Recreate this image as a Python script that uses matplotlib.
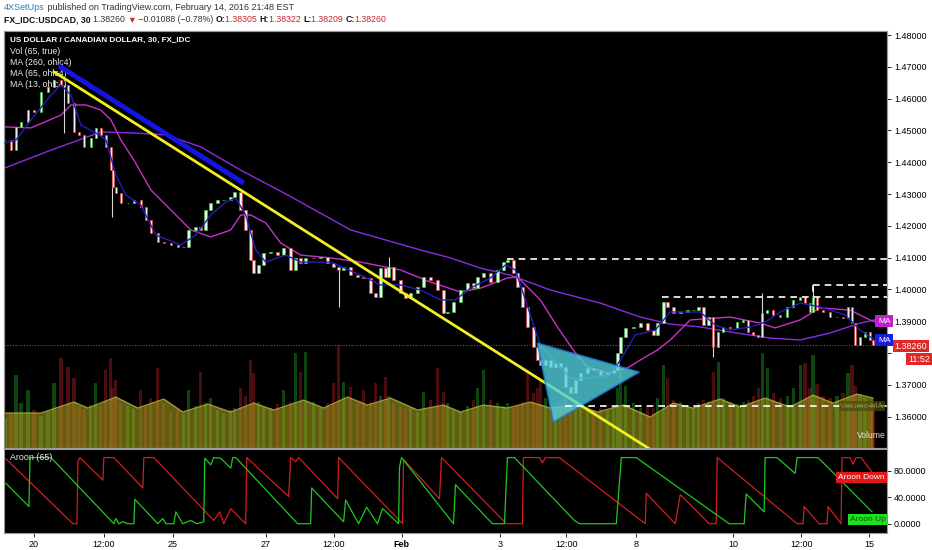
import numpy as np
import matplotlib.pyplot as plt
from matplotlib.patches import Polygon

plt.rcParams['font.family'] = ['Liberation Sans', 'DejaVu Sans']

# ---- price samples (bar index, close) ----
bars = [0, 6, 11, 16, 23, 29, 36, 43, 49, 56, 63, 69, 74, 79, 86, 91, 96, 101, 106, 108,
        111, 116, 123, 129, 136, 141, 146, 153, 159, 166, 173, 179, 184, 191, 196, 201, 206, 213, 219, 226,
        230, 236, 241, 246, 249, 254, 259, 266, 273, 279, 286, 291, 296, 301, 309, 316, 323, 329, 334, 339,
        346, 353, 359, 366, 371, 376, 381, 384, 389, 396, 401, 406, 413, 419, 426, 433, 439, 443, 449, 456,
        463, 469, 473, 479, 486, 493, 499, 503, 509, 513, 518, 523, 529, 533, 536, 541, 546, 551, 556, 561,
        566, 571, 576, 583, 589, 596, 603, 609, 613, 616, 621, 629, 636, 643, 649, 653, 659, 663, 669, 676,
        683, 689, 694, 699, 704, 709, 714, 719, 726, 733, 739, 744, 749, 754, 758, 763, 769, 776, 783, 789,
        796, 801, 806, 809, 813, 819, 826, 833, 839, 844, 848, 851, 856, 861, 866, 869]
close = [1.4470, 1.4438, 1.4511, 1.4526, 1.4564, 1.4558, 1.4621, 1.4636, 1.4658, 1.4643, 1.4586, 1.4495, 1.4486, 1.4448, 1.4476, 1.4508, 1.4486, 1.4448, 1.4375, 1.4322,
         1.4303, 1.4272, 1.4272, 1.4281, 1.4259, 1.4218, 1.4177, 1.4149, 1.4146, 1.4140, 1.4133, 1.4133, 1.4187, 1.4196, 1.4187, 1.4250, 1.4272, 1.4281, 1.4281, 1.4291,
         1.4306, 1.4250, 1.4187, 1.4092, 1.4052, 1.4077, 1.4114, 1.4118, 1.4108, 1.4130, 1.4061, 1.4099, 1.4083, 1.4099, 1.4099, 1.4102, 1.4083, 1.4070, 1.4061, 1.4070,
         1.4045, 1.4039, 1.4036, 1.3989, 1.3976, 1.4067, 1.4039, 1.4070, 1.4030, 1.3989, 1.3973, 1.3989, 1.4008, 1.4039, 1.4030, 1.3998, 1.3926, 1.3929, 1.3960, 1.3998,
         1.4020, 1.4004, 1.4039, 1.4052, 1.4023, 1.4061, 1.4086, 1.4092, 1.4052, 1.4008, 1.3945, 1.3882, 1.3819, 1.3778, 1.3762, 1.3778, 1.3756, 1.3769, 1.3756, 1.3693,
         1.3674, 1.3715, 1.3737, 1.3753, 1.3747, 1.3731, 1.3737, 1.3747, 1.3800, 1.3850, 1.3879, 1.3882, 1.3894, 1.3872, 1.3857, 1.3894, 1.3960, 1.3945, 1.3926, 1.3929,
         1.3935, 1.3935, 1.3945, 1.3888, 1.3913, 1.3819, 1.3866, 1.3882, 1.3879, 1.3897, 1.3904, 1.3866, 1.3857, 1.3850, 1.3926, 1.3935, 1.3920, 1.3913, 1.3945, 1.3967,
         1.3976, 1.3957, 1.3929, 1.3976, 1.3935, 1.3929, 1.3913, 1.3913, 1.3910, 1.3945, 1.3894, 1.3825, 1.3850, 1.3866, 1.3841, 1.3826]
volume = [3000, 3500, 7300, 4500, 5800, 3800, 3200, 3600, 6500, 9000, 8100, 7000, 4200, 3900, 4300, 6500, 4200, 7800, 9000, 6000,
          6800, 4500, 4200, 3900, 5800, 4200, 5000, 8000, 4500, 3600, 3800, 3500, 5800, 4200, 7600, 4500, 5000, 3800, 3500, 3800,
          4000, 6000, 5200, 8800, 7500, 4600, 4200, 4000, 4400, 5800, 4600, 9500, 7600, 9600, 4600, 4000, 4500, 6500, 10300, 6600,
          6100, 4500, 5800, 4600, 6500, 5200, 7100, 5200, 4500, 4200, 3900, 4000, 3600, 5600, 4800, 8000, 5600, 4500, 3800, 3600,
          4200, 4800, 6000, 7800, 4800, 4500, 4200, 4500, 4000, 4200, 4600, 7600, 5500, 6000, 6800, 5000, 4500, 4200, 4600, 5000,
          4200, 4800, 4500, 4200, 3800, 4000, 3800, 4200, 6000, 7500, 6200, 4500, 4000, 4200, 4000, 5000, 8300, 7000, 4800, 4600,
          4200, 4000, 4500, 4800, 4600, 7600, 8600, 5000, 4600, 4400, 4600, 4800, 5200, 6000, 9500, 8000, 5500, 5000, 5200, 6000,
          8300, 8500, 6000, 9300, 6400, 5200, 5000, 5200, 5500, 7500, 8300, 6200, 5400, 5000, 4800, 4500]

# a few long wicks
wick_bar = [59, 107, 334, 384, 709, 758, 809]
wick_lo = [1.4492, 1.4228, 1.3945, 1.4039, 1.3787, 1.3850, 1.3929]
wick_hi = [1.4643, 1.4375, 1.4061, 1.4102, 1.3866, 1.3989, 1.4008]

# volume moving average
vma_bar = [0, 36, 69, 83, 111, 133, 159, 178, 203, 226, 249, 269, 299, 319, 343, 363, 386, 413, 439, 456,
           479, 503, 526, 546, 573, 593, 619, 646, 669, 689, 716, 736, 761, 786, 809, 829, 853, 869]
vma = [3500, 3500, 4600, 4000, 5100, 4000, 4900, 3600, 4400, 3600, 4500, 3800, 4800, 4000, 5100, 4300, 5000, 3800, 4300, 3600,
       4300, 4000, 4600, 4000, 4300, 3600, 4300, 3100, 4500, 4000, 4900, 4100, 5000, 4100, 5300, 4500, 5400, 5000]

# moving averages
ma260_bar = [0, 46, 96, 129, 161, 196, 236, 283, 346, 416, 446, 476, 506, 546, 596, 636, 666, 696, 726, 766, 796, 826, 856, 871]
ma260 = [1.4382, 1.4438, 1.4495, 1.4492, 1.4486, 1.4448, 1.4375, 1.4297, 1.4187, 1.4124, 1.4099, 1.4067, 1.4045, 1.3998, 1.3957,
         1.3913, 1.3891, 1.3882, 1.3866, 1.3847, 1.3841, 1.3863, 1.3894, 1.3904]
ma65_bar = [0, 26, 56, 66, 81, 96, 106, 116, 129, 146, 166, 186, 206, 226, 236, 246, 261, 276, 296, 326, 356, 396, 426, 456,
            476, 503, 513, 536, 553, 569, 583, 603, 623, 636, 653, 666, 686, 726, 756, 771, 796, 816, 846, 866, 874]
ma65 = [1.4511, 1.4508, 1.4548, 1.4580, 1.4580, 1.4564, 1.4533, 1.4470, 1.4407, 1.4313, 1.4250, 1.4187, 1.4165, 1.4187, 1.4234,
        1.4234, 1.4209, 1.4146, 1.4108, 1.4099, 1.4086, 1.4061, 1.4023, 1.3992, 1.4004, 1.4036, 1.4039, 1.3967, 1.3882, 1.3809,
        1.3756, 1.3737, 1.3753, 1.3778, 1.3809, 1.3841, 1.3904, 1.3913, 1.3894, 1.3879, 1.3904, 1.3942, 1.3935, 1.3904, 1.3894]
ma13_bar = [0, 11, 26, 46, 56, 66, 76, 91, 101, 111, 121, 136, 151, 176, 191, 206, 221, 231, 241, 251, 261, 281, 296, 326, 356,
            376, 396, 416, 436, 451, 466, 486, 501, 511, 521, 536, 551, 566, 586, 606, 616, 631, 651, 666, 696, 711, 726, 746,
            761, 776, 796, 816, 841, 856, 871]
ma13 = [1.4460, 1.4470, 1.4533, 1.4611, 1.4643, 1.4611, 1.4517, 1.4492, 1.4470, 1.4360, 1.4297, 1.4265, 1.4171, 1.4140, 1.4171,
        1.4234, 1.4275, 1.4287, 1.4234, 1.4124, 1.4086, 1.4108, 1.4086, 1.4086, 1.4045, 1.4014, 1.4014, 1.3998, 1.3967, 1.3967,
        1.4004, 1.4036, 1.4077, 1.4061, 1.3967, 1.3825, 1.3772, 1.3721, 1.3721, 1.3731, 1.3778, 1.3857, 1.3872, 1.3929, 1.3929,
        1.3888, 1.3872, 1.3882, 1.3897, 1.3929, 1.3957, 1.3945, 1.3920, 1.3872, 1.3841]

last_price = 1.3826

# drawings
yellow_line = ([49, 644], [1.4684, 1.3501])
blue_line = ([56, 237], [1.4699, 1.4338])
triangle = [(533, 1.3831), (635, 1.3740), (549, 1.3583)]
dashes = [(503, 1.4096), (658, 1.3976), (809, 1.4014), (561, 1.3633)]

# Aroon (65)
down_bar = [1, 68, 72, 73, 75, 98, 99, 109, 138, 139, 149, 209, 215, 219, 226, 241, 242, 284, 286, 291, 294, 333, 334, 398, 399,
            435, 437, 502, 518, 519, 535, 538, 541, 555, 641, 642, 671, 676, 705, 712, 713, 793, 799, 800, 815, 823, 824, 837,
            838, 846, 849, 852, 857, 869]
down_val = [98, 0, 0, 94, 100, 66, 100, 100, 54, 100, 100, 5, 18, 0, 23, 0, 100, 41, 100, 94, 100, 38, 100, 0, 97,
            38, 100, 0, 0, 100, 100, 92, 100, 100, 0, 46, 0, 44, 0, 0, 100, 0, 0, 26, 0, 0, 26, 0,
            100, 100, 90, 100, 100, 76]
up_bar = [1, 24, 25, 46, 109, 111, 114, 118, 123, 129, 130, 153, 158, 161, 169, 171, 178, 186, 192, 199, 200, 206, 209, 216, 226,
          228, 231, 293, 306, 307, 339, 341, 354, 362, 373, 378, 394, 395, 397, 449, 451, 488, 500, 503, 510, 570, 575, 612, 617,
          632, 725, 740, 742, 760, 761, 773, 791, 793, 814, 868]
up_val = [61, 26, 100, 100, 0, 8, 0, 3, 0, 0, 37, 0, 8, 0, 0, 18, 0, 5, 0, 3, 99, 89, 100, 99, 84,
          100, 100, 0, 0, 54, 3, 36, 0, 25, 0, 23, 0, 86, 100, 0, 59, 0, 0, 100, 100, 5, 0, 0, 100,
          100, 0, 0, 45, 18, 100, 100, 76, 100, 100, 18]

tick_bars = [29, 99, 168, 261, 329, 397, 496, 562, 632, 729, 797, 865]
tick_labels = ['20', '12:00', '25', '27', '12:00', 'Feb', '3', '12:00', '8', '10', '12:00', '15']

# ---------------------------------------------------------------
W, H = 932, 550
fig = plt.figure(figsize=(W / 100, H / 100), dpi=100, facecolor='white')

x0, x1 = 4, 887
axv = fig.add_axes([x0 / W, (H - 448) / H, (x1 - x0) / W, (448 - 31) / H])
axv.set_facecolor('black')
ax = axv.twinx()
ax2 = fig.add_axes([x0 / W, (H - 533) / H, (x1 - x0) / W, (533 - 449) / H])
ax2.set_facecolor('black')

xlim = (-1, 883)

# volume overlay
bars_a = np.array(bars)
close_a = np.array(close)
open_a = np.r_[close_a[0], close_a[:-1]]
up = close_a >= open_a
vcol = np.where(up, '#1c8a1c', '#961a1a')
axv.bar(bars_a, volume, width=3.2, color=vcol, alpha=0.5, linewidth=0)
axv.fill_between(vma_bar, vma, 0, color='#b0a820', alpha=0.55, linewidth=0)
axv.plot(vma_bar, vma, color='#bdb845', lw=1.0, alpha=0.8)
axv.set_ylim(0, 41800)
axv.set_xlim(*xlim)
axv.set_yticks([])
axv.set_xticks([])

# price
ax.axhline(last_price, color='#c03030', lw=0.8, ls=(0, (1, 1.5)), zorder=1)
ax.plot(ma260_bar, ma260, color='#8a2be2', lw=1.0, zorder=2)
ax.plot(ma65_bar, ma65, color='#c832c8', lw=1.0, zorder=2)
ax.vlines(wick_bar, wick_lo, wick_hi, color='#d8d8d8', lw=0.8, zorder=3)
edge = np.where(up, '#3cbf3c', '#d04040')
ax.vlines(bars_a, np.minimum(open_a, close_a), np.maximum(open_a, close_a), color=edge, lw=0.8, zorder=3)
ax.bar(bars_a, np.abs(close_a - open_a), bottom=np.minimum(open_a, close_a), width=2.6,
       color='#eeeeee', edgecolor=edge, linewidth=0.5, zorder=4)
ax.plot(ma13_bar, ma13, color='#2020b8', lw=1.0, zorder=5)

ax.plot(*yellow_line, color='#f0f020', lw=2.0, zorder=6)
ax.plot(*blue_line, color='#1414e6', lw=3.5, zorder=6)
ax.add_patch(Polygon(triangle, closed=True, facecolor='#52d0dc', alpha=0.8,
                     edgecolor='#1e78d8', lw=1.2, zorder=7))
for b, p in dashes:
    ax.plot([b, xlim[1]], [p, p], color='white', lw=1.2, ls=(0, (4, 3)), zorder=8)
ax.plot([dashes[2][0]] * 2, [dashes[2][1], dashes[1][1]], color='white', lw=1.2, ls=(0, (4, 3)), zorder=8)

ax.set_xlim(*xlim)
ax.set_ylim(1.35013, 1.48126)
pt = np.round(np.arange(1.36, 1.4801, 0.01), 2)
ax.set_yticks(pt)
# 1.38000 sits under the last-price tag in the original
ax.set_yticklabels(['' if abs(v - 1.38) < 1e-6 else '%.5f' % v for v in pt])
ax.tick_params(axis='y', labelsize=6.5, colors='black', length=3, width=0.6, pad=2)
for a in (ax, axv):
    for s in a.spines.values():
        s.set_color('#9a9a9a')
        s.set_linewidth(0.8)

# legend texts
ax.text(0.007, 0.978, 'US DOLLAR / CANADIAN DOLLAR, 30, FX_IDC', transform=ax.transAxes,
        color='white', fontsize=5.9, fontweight='bold', va='center')
for i, s in enumerate(['Vol (65, true)', 'MA (260, ohlc4)', 'MA (65, ohlc4)', 'MA (13, ohlc4)']):
    ax.text(0.007, 0.952 - i * 0.027, s, transform=ax.transAxes, color='#e8e8e8', fontsize=6.3, va='center')

# price axis tags
ty = ax.get_yaxis_transform()
ax.text(1.0085, last_price - 0.0004, '1.38260', transform=ty, color='white', fontsize=6.5, va='center', ha='left',
        clip_on=False, zorder=20, bbox=dict(boxstyle='square,pad=0.2', fc='#e02828', ec='none'))
ax.text(1.024, 1.3781, '11:52', transform=ty, color='white', fontsize=6.5, va='center', ha='left',
        clip_on=False, zorder=20, bbox=dict(boxstyle='square,pad=0.2', fc='#e02828', ec='none'))
ax.text(1.004, 1.3900, 'MA', transform=ty, color='white', fontsize=6, va='center', ha='right',
        clip_on=False, zorder=21, bbox=dict(boxstyle='square,pad=0.3', fc='#c020d0', ec='none'))
ax.text(1.004, 1.3840, 'MA', transform=ty, color='white', fontsize=6, va='center', ha='right',
        clip_on=False, zorder=21, bbox=dict(boxstyle='square,pad=0.3', fc='#1c1ce0', ec='none'))
ax.text(0.996, 1.3633, 'Volume MA', transform=ty, color='#8a8a30', fontsize=6, va='center', ha='right',
        zorder=9, bbox=dict(boxstyle='square,pad=0.2', fc='#4a4a10', ec='none', alpha=0.7))
ax.text(0.999, 0.03, 'Volume', transform=ax.transAxes, color='#e0e0e0', fontsize=6.2, va='center', ha='right', zorder=9)

# Aroon pane
ax2.plot(down_bar, down_val, color='#d21e1e', lw=0.9)
ax2.plot(up_bar, up_val, color='#1ec81e', lw=0.9)
ax2.set_xlim(*xlim)
ax2.set_ylim(-14, 113)
ax2.yaxis.tick_right()
ax2.set_yticks([0, 40, 80])
ax2.set_yticklabels(['0.0000', '40.0000', '80.0000'])
ax2.tick_params(axis='y', labelsize=6.5, colors='black', length=3, width=0.6, pad=2)
ax2.set_xticks(tick_bars)
ax2.set_xticklabels(tick_labels)
ax2.tick_params(axis='x', labelsize=6.5, colors='black', length=3, width=0.6, pad=2)
for lab in ax2.get_xticklabels():
    if lab.get_text() == 'Feb':
        lab.set_fontweight('bold')
for s in ax2.spines.values():
    s.set_color('#9a9a9a')
    s.set_linewidth(0.8)
ax2.text(0.007, 0.9, 'Aroon (65)', transform=ax2.transAxes, color='#e8e8e8', fontsize=6.4, va='center')
ax2.text(xlim[1] - 2, down_val[-1] - 6, 'Aroon Down', color='white', fontsize=6, va='center', ha='right',
         bbox=dict(boxstyle='square,pad=0.25', fc='#e01818', ec='none'))
ax2.text(xlim[1] - 1, up_val[-1] - 12, 'Aroon Up', color='#0a5a0a', fontsize=6, va='center', ha='right',
         bbox=dict(boxstyle='square,pad=0.25', fc='#1ee01e', ec='none'))

# header lines
t = fig.text(4 / W, 1 - 8 / H, '4XSetUps', color='#2a7ab8', fontsize=6.5, va='center')
fig.canvas.draw()
ax.annotate(' published on TradingView.com, February 14, 2016 21:48 EST', xy=(1, 0), xycoords=t,
            va='bottom', ha='left', color='#333333', fontsize=6.5, annotation_clip=False)
parts = [('FX_IDC:USDCAD, 30 ', 'bold', '#111111'), ('1.38260 ', 'normal', '#333333'),
         ('\u25bc', 'normal', '#c0282d'), (' \u22120.01088 (\u22120.78%) ', 'normal', '#333333'),
         ('O:', 'bold', '#111111'), ('1.38305 ', 'normal', '#c0282d'), ('H:', 'bold', '#111111'),
         ('1.38322 ', 'normal', '#c0282d'), ('L:', 'bold', '#111111'), ('1.38209 ', 'normal', '#c0282d'),
         ('C:', 'bold', '#111111'), ('1.38260', 'normal', '#c0282d')]
prev = fig.text(4 / W, 1 - 20 / H, parts[0][0], fontweight=parts[0][1], color=parts[0][2], fontsize=6.3,
                va='center')
for s, w, c in parts[1:]:
    prev = ax.annotate(s, xy=(1, 0), xycoords=prev, va='bottom', ha='left', fontweight=w, color=c,
                       fontsize=6.3, annotation_clip=False)

fig.savefig('out.png', dpi=100, facecolor='white')
